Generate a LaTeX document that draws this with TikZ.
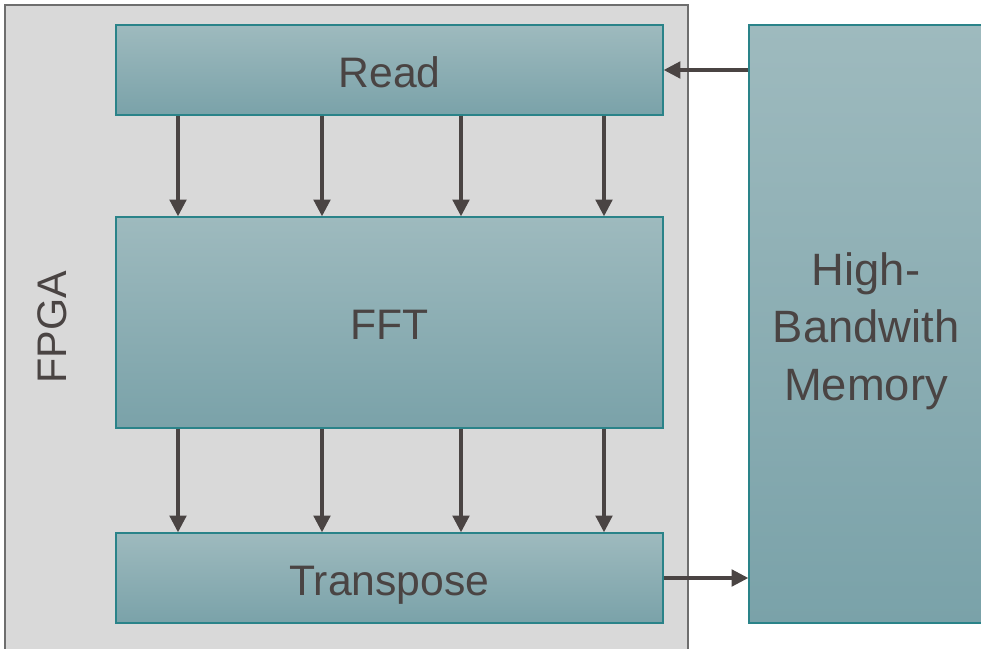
\documentclass[tikz,border=0pt]{standalone}
\usepackage{fontspec}
\setmainfont{Liberation Sans}
\usetikzlibrary{arrows.meta}
\definecolor{txt}{HTML}{4A4443}
\definecolor{edge}{HTML}{2A8389}
\definecolor{shtop}{HTML}{9EBABE}
\definecolor{shbot}{HTML}{7AA2A9}
\definecolor{fpgafill}{HTML}{D9D9D9}
\definecolor{fpgaline}{HTML}{6E6E6E}
\definecolor{arrowc}{HTML}{4A4443}
\tikzset{
  block/.style={draw=edge, line width=1.1pt, top color=shtop, bottom color=shbot,
    inner sep=0pt, minimum width=547*0.75pt, text=txt,
    text height=26pt, text depth=0pt,
    font=\fontsize{32}{38}\selectfont, align=center},
  flow/.style={draw=arrowc, line width=2.3pt,
    -{Triangle[length=12.5pt, width=12.5pt]}},
}
\begin{document}
\begin{tikzpicture}[x=0.75pt, y=-0.75pt]
  \useasboundingbox (0,0) rectangle (981,649);
  % FPGA enclosure
  \draw[fill=fpgafill, draw=fpgaline, line width=1.2pt] (5,5) rectangle (688,660);
  \node[rotate=90, text=txt, font=\fontsize{31}{38}\selectfont] (fpga) at (52,327) {FPGA};
  % processing stages
  \node[block, minimum height=90*0.75pt] (read) at (389.5,70) {Read};
  \node[block, minimum height=211*0.75pt] (fft) at (389.5,322.5) {FFT};
  \node[block, minimum height=90*0.75pt] (trans) at (389.5,578) {Transpose};
  % off-chip memory
  \node[draw=edge, line width=1.1pt, top color=shtop, bottom color=shbot,
    inner sep=0pt, minimum width=236*0.75pt, minimum height=598*0.75pt]
    (hbm) at (867,324) {};
  \node[text=txt, font=\fontsize{34}{43}\selectfont, align=center, inner sep=0pt]
    (hbmtext) at (866,331) {High-\\Bandwith\\Memory};
  % parallel data lanes
  \foreach \dx in {-211.5,-67.5,71.5,214.5} {
    \draw[flow] ([xshift=\dx*0.75pt]read.south) -- ([xshift=\dx*0.75pt]fft.north);
    \draw[flow] ([xshift=\dx*0.75pt]fft.south) -- ([xshift=\dx*0.75pt]trans.north);
  }
  % memory traffic
  \draw[flow] (hbm.west |- read.east) -- (read.east);
  \draw[flow] (trans.east) -- (hbm.west |- trans.east);
\end{tikzpicture}
\end{document}
